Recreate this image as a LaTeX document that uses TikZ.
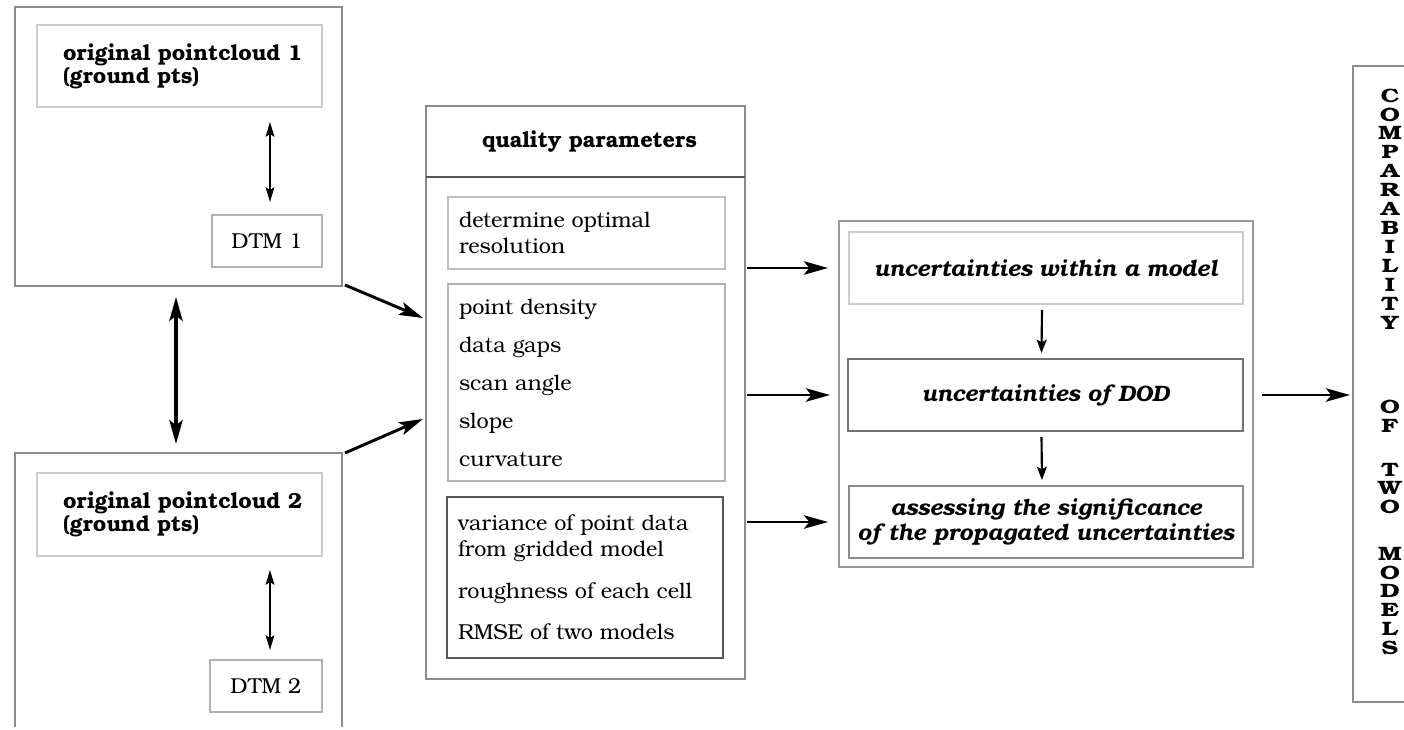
\documentclass[tikz,border=0pt]{standalone}
\usepackage{fontspec}
\setmainfont{texgyrebonum}[Extension=.otf, UprightFont=*-regular, BoldFont=*-bold, ItalicFont=*-italic, BoldItalicFont=*-bolditalic]
\newfontfamily\widebold{texgyrebonum-bold.otf}[FakeStretch=1.3]
\usetikzlibrary{arrows.meta,fit,calc}
\begin{document}
\begin{tikzpicture}[x=0.75pt,y=-0.75pt,
  every node/.style={inner sep=0pt, outer sep=0pt},
  frame/.style={draw=#1, line width=0.8pt},
  body/.style={font=\fontsize{16.2}{19.5}\selectfont, align=left},
  bold/.style={font=\fontsize{16.4}{17.2}\selectfont\bfseries, align=left},
  ital/.style={font=\fontsize{16.8}{19}\selectfont\bfseries\itshape, align=center},
  vert/.style={font=\fontsize{14.5}{14.2}\selectfont\widebold, align=center},
  bigarrow/.style={line width=2.2pt, -{Stealth[length=18pt,width=10pt,inset=4pt]}},
  downarrow/.style={line width=1.6pt, -{Stealth[length=10pt,width=7.5pt,inset=2pt]}},
  smalldbl/.style={line width=1.5pt, {Stealth[length=11pt,width=6.5pt,inset=2pt]}-{Stealth[length=11pt,width=6.5pt,inset=2pt]}},
  bigdbl/.style={line width=2.4pt, {Stealth[length=18pt,width=10pt,inset=4pt]}-{Stealth[length=18pt,width=10pt,inset=4pt]}}
]
\useasboundingbox (0,0) rectangle (1404,730);

% ---------- left block 1 ----------
\node[frame=black!45, fit={(15,7) (342,286)}] (L1) {};
\node[frame=black!20, fit={(37,25) (322,107)}] (pc1) {};
\node[bold, anchor=west] (pc1t) at ($(pc1.west)+(26,0)$) {original pointcloud 1\\(ground pts)};
\node[frame=black!30, fit={(212,215) (322,267)}] (dtm1) {};
\node[body] (dtm1t) at (dtm1.center) {DTM 1};
\draw[smalldbl] ($(pc1.south -| dtm1.north)+(3,15)$) -- ($(dtm1.north)+(3,-13)$);

% ---------- left block 2 ----------
\node[fit={(15,453) (342,727)}] (L2) {};
\draw[black!45, line width=0.8pt] (L2.south west) -- (L2.north west) -- (L2.north east) -- (L2.south east);
\node[frame=black!20, fit={(37,473) (322,556)}] (pc2) {};
\node[bold, anchor=west] (pc2t) at ($(pc2.west)+(26,0)$) {original pointcloud 2\\(ground pts)};
\node[frame=black!30, fit={(210,660) (322,712)}] (dtm2) {};
\node[body] (dtm2t) at (dtm2.center) {DTM 2};
\draw[smalldbl] ($(pc2.south -| dtm2.north)+(4,14)$) -- ($(dtm2.north)+(4,-10)$);

% big double arrow
\draw[bigdbl] ($(L1.south)+(-2.5,11)$) -- ($(L2.north)+(-2.5,-9)$);

% ---------- quality parameters ----------
\node[frame=black!45, fit={(426,106) (745,679)}] (Q) {};
\node[fit={(426,106) (745,177)}] (Qh) {};
\node[bold] (Qht) at ($(Qh.center)+(4,0)$) {quality parameters};
\draw[black!65, line width=0.8pt] (Qh.south west) -- (Qh.south east);
\node[frame=black!25, fit={(448,197) (725,269)}] (q1) {};
\node[body, anchor=west] (q1t) at ($(q1.west)+(11,0)$) {determine optimal\\resolution};
\node[frame=black!30, fit={(448,284) (725,481)}] (q2) {};
\node[body, anchor=west] (q2t) at ($(q2.west)+(11,0)$) {point density\\[9pt]data gaps\\[9pt]scan angle\\[9pt]slope\\[9pt]curvature};
\node[frame=black!65, fit={(447,497) (723,658)}] (q3) {};
\node[body, anchor=west] (q3t) at ($(q3.west)+(11,0)$) {variance of point data\\from gridded model\\[11.5pt]roughness of each cell\\[11.5pt]RMSE of two models};

\draw[bigarrow] ($(L1.south east)+(3,-1)$) -- ($(Q.north west)+(-3,212)$);
\draw[bigarrow] ($(L2.north east)+(3,0)$) -- ($(Q.north west)+(-3,313)$);

% ---------- uncertainties ----------
\node[frame=black!40, fit={(839,221) (1253,567)}] (R) {};
\node[frame=black!20, fit={(849,232) (1243,304)}] (r1) {};
\node[ital] (r1t) at (r1.center) {uncertainties within a model};
\node[frame=black!55, fit={(848,359) (1243,431)}] (r2) {};
\node[ital] (r2t) at (r2.center) {uncertainties of DOD};
\node[frame=black!45, fit={(849,486) (1243,558)}] (r3) {};
\node[ital] (r3t) at (r3.center) {assessing the significance\\of the propagated uncertainties};

\draw[downarrow] ($(r1.south)+(-4,6)$) -- ($(r2.north)+(-4,-6)$);
\draw[downarrow] ($(r2.south)+(-4,6)$) -- ($(r3.north)+(-4,-6)$);

\draw[bigarrow] ($(Q.east |- r1.west)+(2,0)$) -- ($(R.west |- r1.west)+(-11,0)$);
\draw[bigarrow] ($(Q.east |- r2.west)+(2,0)$) -- ($(R.west |- r2.west)+(-9,0)$);
\draw[bigarrow] ($(Q.east |- r3.west)+(2,0)$) -- ($(R.west |- r3.west)+(-11,0)$);

% ---------- comparability ----------
\node[frame=black!45, fit={(1353,66) (1440,702)}] (C) {};
\node[vert] (c1) at (1390,209) {C\\O\\M\\P\\A\\R\\A\\B\\I\\L\\I\\T\\Y};
\node[vert] (c2) at (1390,416) {O\\F};
\node[vert] (c3) at (1390,488.5) {T\\W\\O};
\node[vert] (c4) at (1390,601) {M\\O\\D\\E\\L\\S};

\draw[bigarrow] ($(R.east |- r2.east)+(9,0)$) -- ($(C.west |- r2.east)+(-3,0)$);
\end{tikzpicture}
\end{document}
